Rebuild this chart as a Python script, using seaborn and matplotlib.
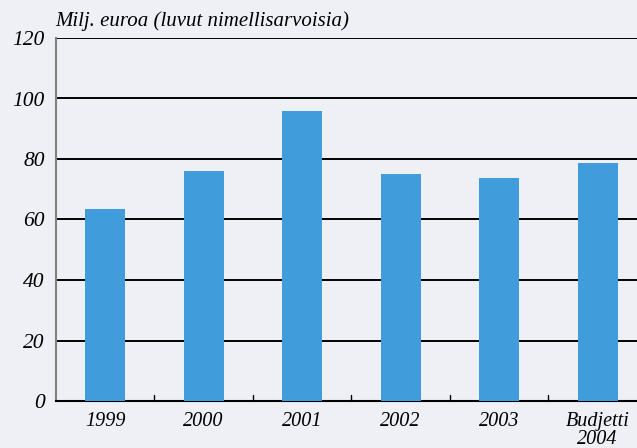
import matplotlib
matplotlib.use("Agg")
import matplotlib.pyplot as plt
import seaborn as sns
import pandas as pd

categories = ["1999", "2000", "2001", "2002", "2003", "Budjetti\n2004"]
values = [63.5, 76, 96, 75, 73.7, 78.7]
yticks = [0, 20, 40, 60, 80, 100, 120]

bg = "#eff0f5"
bar_color = "#409cda"

sns.set_theme(style="white")
plt.rcParams["font.family"] = ["Liberation Serif", "DejaVu Serif"]
plt.rcParams["text.color"] = "black"
plt.rcParams["xtick.color"] = "black"
plt.rcParams["ytick.color"] = "black"

fig = plt.figure(figsize=(6.37, 4.48), dpi=100, facecolor=bg)
ax = fig.add_axes([56/637, 1-401/448, 1-56/637, (401-38)/448])
ax.set_facecolor(bg)

df = pd.DataFrame({"cat": categories, "val": values})
sns.barplot(data=df, x="cat", y="val", color=bar_color, width=0.405,
            saturation=1, linewidth=0, edgecolor="none", ax=ax, zorder=3)

ax.set_ylim(0, 120)
ax.set_xlim(-0.5, 5.4)
ax.set_yticks(yticks)
ax.set_yticklabels([str(t) for t in yticks], fontsize=15.5, style="italic")
for t in yticks[1:]:
    ax.axhline(t, color="black", lw=1.4, zorder=1)

ax.set_xticks(range(len(categories)))
ax.set_xticklabels(categories, fontsize=14.5, style="italic", linespacing=0.9)
ax.tick_params(axis="x", length=0, pad=8)
ax.tick_params(axis="y", length=0, pad=8)
# boundary ticks pointing up
for b in [0.5, 1.5, 2.5, 3.5, 4.5]:
    ax.plot([b, b], [0, 2], color="black", lw=1.0, zorder=4, clip_on=False)

ax.set_xlabel("")
ax.set_ylabel("")
for s in ["top", "right"]:
    ax.spines[s].set_visible(False)
ax.spines["left"].set_color("#808080")
ax.spines["left"].set_linewidth(1.5)
ax.spines["bottom"].set_color("black")
ax.spines["bottom"].set_linewidth(1.5)

fig.text(55/637, 1-21/448, "Milj. euroa (luvut nimellisarvoisia)", fontsize=15,
         style="italic", va="center", ha="left")

fig.savefig("out.png", dpi=100, facecolor=bg)
